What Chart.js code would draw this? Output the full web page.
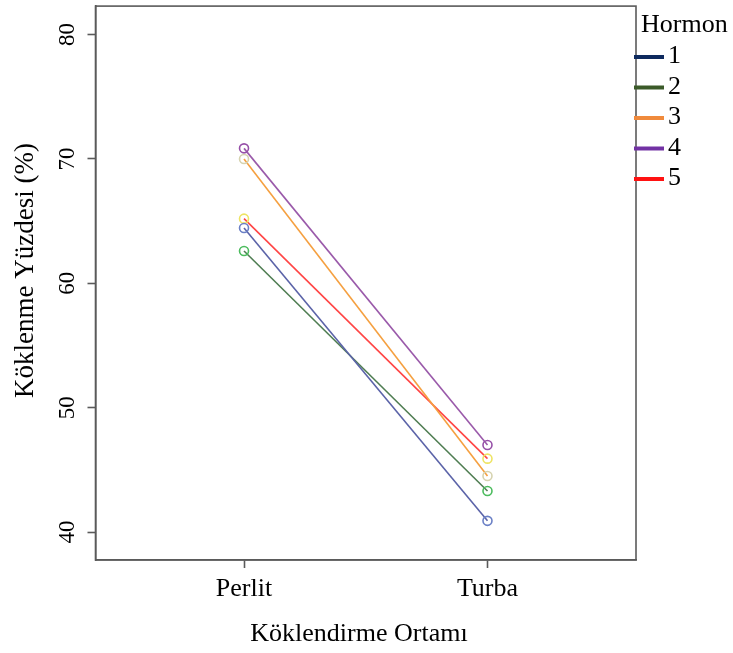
<!DOCTYPE html>
<html>
<head>
<meta charset="utf-8">
<script src="https://cdn.jsdelivr.net/npm/chart.js@4.4.1/dist/chart.umd.min.js"></script>
<style>
  html, body { margin: 0; padding: 0; background: #fff; }
  #wrap { width: 733px; height: 653px; }
</style>
</head>
<body>
<div id="wrap"><canvas id="c" width="733" height="653"></canvas></div>
<script>
// ---- data ----
const categories = ['Perlit', 'Turba'];
const seriesNames = ['1', '2', '3', '4', '5'];
const hormon1 = [64.45, 40.9];
const hormon2 = [62.6, 43.3];
const hormon3 = [70.0, 44.5];
const hormon4 = [70.85, 47.0];
const hormon5 = [65.2, 45.9];
const yTicks = [40, 50, 60, 70, 80];
const xTitle = 'Köklendirme Ortamı';
const yTitle = 'Köklenme Yüzdesi (%)';
const legendTitle = 'Hormon';

// ---- styles ----
const lineColors = ['#5b63a8', '#4f7d52', '#f5a040', '#9a5aaa', '#ff4545'];
const pointColors = ['#6b80c6', '#4cbc5e', '#d6d3b0', '#9650a8', '#eee463'];
const legendColors = ['#0e2a5e', '#3b5a29', '#f08a3c', '#7232a4', '#ff1212'];
const FONT = '"Liberation Serif", "Times New Roman", serif';

const allSeries = [hormon1, hormon2, hormon3, hormon4, hormon5];
const datasets = allSeries.map((vals, i) => ({
  label: seriesNames[i],
  data: vals.map((v, j) => ({ x: j + 1, y: v })),
  borderColor: lineColors[i],
  borderWidth: 1.6,
  pointRadius: 4.5,
  pointHoverRadius: 4.5,
  pointBorderWidth: 1.6,
  pointBorderColor: pointColors[i],
  pointBackgroundColor: 'rgba(0,0,0,0)',
  fill: false,
  tension: 0
}));

const framePlugin = {
  id: 'frame',
  afterDraw(chart) {
    const { ctx, chartArea: a } = chart;
    ctx.save();
    ctx.strokeStyle = '#5a5a5a';
    ctx.lineWidth = 1.6;
    ctx.strokeRect(a.left, a.top, a.right - a.left, a.bottom - a.top);
    // axis titles
    ctx.fillStyle = '#000';
    ctx.font = '26px ' + FONT;
    ctx.textAlign = 'center';
    ctx.textBaseline = 'middle';
    ctx.fillText(xTitle, 359, 634);
    ctx.save();
    ctx.translate(26, 270.5);
    ctx.rotate(-Math.PI / 2);
    ctx.font = '27px ' + FONT;
    ctx.fillText(yTitle, 0, 0);
    ctx.restore();
    // legend
    ctx.font = '26px ' + FONT;
    ctx.textBaseline = 'alphabetic';
    ctx.textAlign = 'left';
    ctx.fillText(legendTitle, 641, 32);
    seriesNames.forEach((name, i) => {
      const base = 63 + i * 30.5;
      ctx.strokeStyle = legendColors[i];
      ctx.lineWidth = 4;
      ctx.beginPath();
      ctx.moveTo(634, base - 6);
      ctx.lineTo(664, base - 6);
      ctx.stroke();
      ctx.fillStyle = '#000';
      ctx.fillText(name, 668, base);
    });
    ctx.restore();
  }
};

new Chart(document.getElementById('c'), {
  type: 'line',
  data: { datasets },
  plugins: [framePlugin],
  options: {
    responsive: false,
    animation: false,
    events: [],
    layout: { padding: { left: 0, top: 5, right: 97, bottom: 0 } },
    plugins: { legend: { display: false }, tooltip: { enabled: false } },
    scales: {
      x: {
        type: 'linear',
        min: 0.39,
        max: 2.61,
        afterBuildTicks: s => { s.ticks = categories.map((c, i) => ({ value: i + 1 })); },
        afterFit: s => { s.height = 93; s.paddingLeft = 0; s.paddingRight = 0; },
        ticks: {
          callback: v => categories[Math.round(v) - 1] || '',
          color: '#000',
          font: { family: FONT, size: 26 },
          padding: 6,
          maxRotation: 0,
          minRotation: 0
        },
        grid: { display: true, drawOnChartArea: false, drawTicks: true, tickLength: 8, tickColor: '#5a5a5a', tickWidth: 1.6 },
        border: { display: true, color: '#5a5a5a', width: 1.6 },
        title: { display: false }
      },
      y: {
        type: 'linear',
        min: 37.75,
        max: 82.29,
        afterBuildTicks: s => { s.ticks = yTicks.map(v => ({ value: v })); },
        afterFit: s => { s.width = 95.5; s.paddingTop = 0; s.paddingBottom = 0; },
        ticks: {
          color: '#000',
          font: { family: FONT, size: 23 },
          padding: 8,
          minRotation: 90,
          maxRotation: 90,
          crossAlign: 'center'
        },
        grid: { display: true, drawOnChartArea: false, drawTicks: true, tickLength: 8, tickColor: '#5a5a5a', tickWidth: 1.6 },
        border: { display: true, color: '#5a5a5a', width: 1.6 },
        title: { display: false }
      }
    }
  }
});
</script>
</body>
</html>
